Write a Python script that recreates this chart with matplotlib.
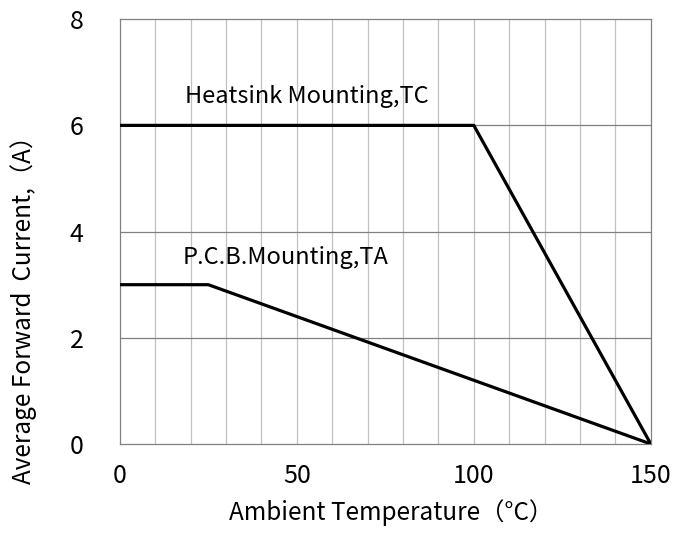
import numpy as np
import matplotlib
matplotlib.use('Agg')
import matplotlib.pyplot as plt

plt.rcParams['font.family'] = ['Noto Sans CJK SC', 'DejaVu Sans']

# 数据
heatsink_x = [0, 100, 150]
heatsink_y = [6, 6, 0]
pcb_x = [0, 25, 150]
pcb_y = [3, 3, 0]
x_ticks = [0, 50, 100, 150]
y_ticks = [0, 2, 4, 6, 8]

fig = plt.figure(figsize=(6.73, 5.33), dpi=100)
ax = fig.add_axes([0.178, 0.167, 0.789, 0.797])

# 网格
for xv in np.arange(10, 150, 10):
    ax.axvline(xv, color='#c0c0c0', linewidth=0.9, zorder=1)
for yv in [2, 4, 6]:
    ax.axhline(yv, color='#808080', linewidth=0.9, zorder=1)

ax.plot(heatsink_x, heatsink_y, color='black', linewidth=2.3, zorder=3)
ax.plot(pcb_x, pcb_y, color='black', linewidth=2.3, zorder=3)

ax.text(18.5, 6.55, 'Heatsink Mounting,TC', fontsize=17, va='center', ha='left')
ax.text(17.8, 3.52, 'P.C.B.Mounting,TA', fontsize=17, va='center', ha='left')

ax.set_xlim(0, 150)
ax.set_ylim(0, 8)
ax.set_xticks(x_ticks)
ax.set_yticks(y_ticks)
ax.tick_params(length=0, labelsize=18)
ax.tick_params(axis='x', pad=14)
ax.tick_params(axis='y', pad=26)
for s in ax.spines.values():
    s.set_color('#808080')
    s.set_linewidth(0.9)

ax.set_xlabel('Ambient Temperature（°C）', fontsize=17.5)
ax.set_ylabel('Average Forward  Current,（A）', fontsize=17.5)
ax.xaxis.set_label_coords(0.51, -0.13)
ax.yaxis.set_label_coords(-0.155, 0.33)

plt.savefig('out.png', dpi=100)
